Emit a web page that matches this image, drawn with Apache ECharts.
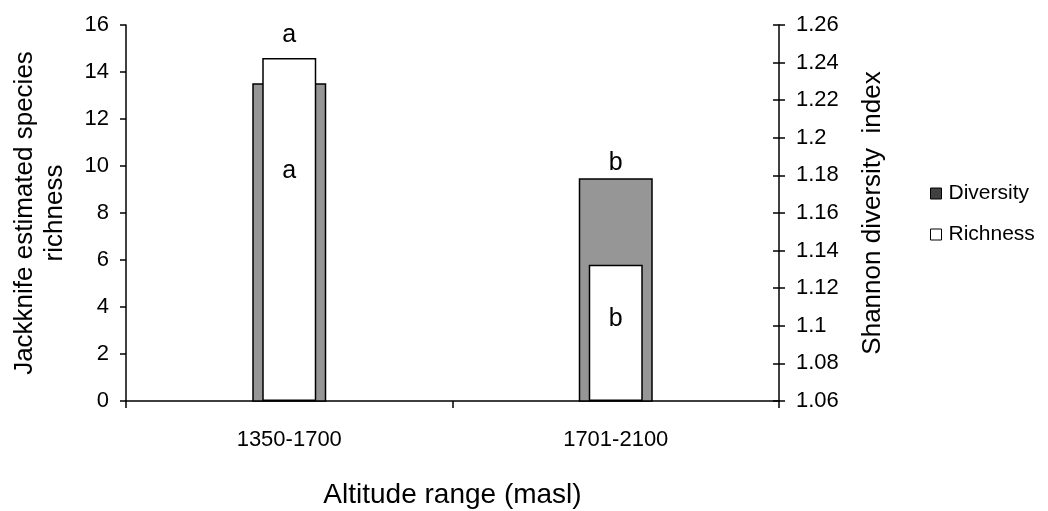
<!DOCTYPE html>
<html>
<head>
<meta charset="utf-8">
<script src="https://cdn.jsdelivr.net/npm/echarts@6/dist/echarts.min.js"></script>
<style>
  html, body { margin: 0; padding: 0; background: #fff; }
  #chart { width: 1048px; height: 511px; }
</style>
</head>
<body>
<div id="chart"></div>
<script>
const categories = ['1350-1700', '1701-2100']
const diversity = [1.229, 1.1785]      // Shannon index, right axis
const richness = [14.6, 5.8]           // Jackknife richness, left axis
const diversityLetters = ['', 'b']     // above the grey bars
const richnessTopLetters = ['a', '']   // above the white bars
const richnessInnerLetters = ['a', 'b'] // inside the white bars
const leftTicks = { min: 0, max: 16, interval: 2 }
const rightTicks = { min: 1.06, max: 1.26, interval: 0.02 }

const font = 'Liberation Sans, Arial, sans-serif'
const axisLine = { show: true, lineStyle: { color: '#000', width: 1.5 } }
const tickStyle = { color: '#000', width: 1.5 }

function getOptions() {
    // where the inner letter sits inside each white bar (px from its top)
    const innerOffset = [113, 54]

    const divData = diversity.map((v, i) => ({
        value: v,
        label: {
            show: !!diversityLetters[i],
            position: 'top',
            distance: 3,
            formatter: diversityLetters[i]
        }
    }))

    const richData = richness.map((v, i) => ({
        value: v,
        label: {
            show: true,
            position: ['50%', innerOffset[i]],
            align: 'center',
            verticalAlign: 'middle',
            formatter: richnessInnerLetters[i]
        }
    }))

    // top letters for richness via a transparent overlay series
    const richTopData = richness.map((v, i) => ({
        value: v,
        label: {
            show: !!richnessTopLetters[i],
            position: 'top',
            distance: 10,
            formatter: richnessTopLetters[i]
        }
    }))

    const letterLabel = { fontSize: 25, color: '#000', fontFamily: font }

    return {
        backgroundColor: '#fff',
        animation: false,
        textStyle: { fontFamily: font, color: '#000' },
        grid: { left: 126, right: 269, top: 25, bottom: 110, outerBoundsMode: 'none' },
        legend: {
            orient: 'vertical',
            left: 925,
            top: 178,
            itemWidth: 11,
            itemHeight: 11,
            itemGap: 20,
            icon: 'rect',
            textStyle: { fontSize: 21, color: '#000', fontFamily: font, padding: [0, 0, 0, 2] },
            data: [
                { name: 'Diversity', itemStyle: { color: '#404040', borderColor: '#000', borderWidth: 1 } },
                { name: 'Richness', itemStyle: { color: '#fff', borderColor: '#000', borderWidth: 1 } }
            ]
        },
        xAxis: [
            {
                type: 'category',
                data: categories,
                axisLine: axisLine,
                axisTick: { show: true, length: 7, lineStyle: tickStyle },
                axisLabel: { fontSize: 22, color: '#000', margin: 28, fontFamily: font },
                name: 'Altitude range (masl)',
                nameLocation: 'middle',
                nameGap: 80,
                nameTextStyle: { fontSize: 28, color: '#000', fontFamily: font }
            },
            {
                type: 'category',
                data: categories,
                show: false
            }
        ],
        yAxis: [
            {
                type: 'value',
                position: 'left',
                min: leftTicks.min,
                max: leftTicks.max,
                interval: leftTicks.interval,
                axisLine: axisLine,
                axisTick: { show: true, length: 6, lineStyle: tickStyle },
                axisLabel: { fontSize: 22, color: '#000', margin: 17, fontFamily: font },
                splitLine: { show: false },
                name: 'Jackknife estimated species\nrichness',
                nameLocation: 'middle',
                nameRotate: 90,
                nameGap: 56,
                nameTextStyle: { fontSize: 26, color: '#000', lineHeight: 30, fontFamily: font }
            },
            {
                type: 'value',
                position: 'right',
                min: rightTicks.min,
                max: rightTicks.max,
                interval: rightTicks.interval,
                axisLine: axisLine,
                axisTick: { show: true, length: 6, lineStyle: tickStyle },
                axisLabel: {
                    fontSize: 22, color: '#000', margin: 17, fontFamily: font,
                    formatter: v => String(+v.toFixed(2))
                },
                splitLine: { show: false },
                name: 'Shannon diversity  index',
                nameLocation: 'middle',
                nameRotate: 90,
                nameGap: 81,
                nameTextStyle: { fontSize: 26, color: '#000', fontFamily: font }
            },
            {
                // inner half of the crossing ticks on the right axis
                type: 'value',
                position: 'right',
                min: rightTicks.min,
                max: rightTicks.max,
                interval: rightTicks.interval,
                axisLine: { show: false },
                axisTick: { show: true, inside: true, length: 6, lineStyle: tickStyle },
                axisLabel: { show: false },
                splitLine: { show: false }
            }
        ],
        series: [
            {
                name: 'Diversity',
                type: 'bar',
                xAxisIndex: 0,
                yAxisIndex: 1,
                barWidth: 74,
                itemStyle: { color: '#969696', borderColor: '#000', borderWidth: 1.5 },
                label: letterLabel,
                data: divData
            },
            {
                name: 'Richness',
                type: 'bar',
                xAxisIndex: 1,
                yAxisIndex: 0,
                barWidth: 54,
                itemStyle: { color: '#fff', borderColor: '#000', borderWidth: 1.5 },
                label: letterLabel,
                data: richData
            },
            {
                name: 'RichnessTop',
                type: 'bar',
                xAxisIndex: 1,
                yAxisIndex: 0,
                barWidth: 54,
                barGap: '-100%',
                silent: true,
                itemStyle: { color: 'rgba(0,0,0,0)' },
                label: letterLabel,
                data: richTopData
            }
        ]
    }
}

const chart = echarts.init(document.getElementById('chart'))
chart.setOption(getOptions())
</script>
</body>
</html>
